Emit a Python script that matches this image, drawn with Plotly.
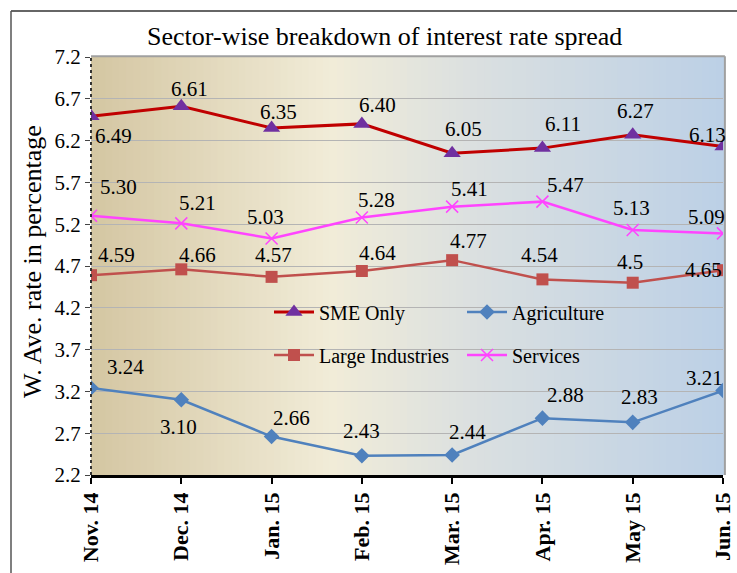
import plotly.graph_objects as go

months = ["Nov. 14", "Dec. 14", "Jan. 15", "Feb. 15", "Mar. 15", "Apr. 15", "May 15", "Jun. 15"]
sme = [6.49, 6.61, 6.35, 6.40, 6.05, 6.11, 6.27, 6.13]
agri = [3.24, 3.10, 2.66, 2.43, 2.44, 2.88, 2.83, 3.21]
large = [4.59, 4.66, 4.57, 4.64, 4.77, 4.54, 4.5, 4.65]
services = [5.30, 5.21, 5.03, 5.28, 5.41, 5.47, 5.13, 5.09]
sme_lbl = ["6.49", "6.61", "6.35", "6.40", "6.05", "6.11", "6.27", "6.13"]
agri_lbl = ["3.24", "3.10", "2.66", "2.43", "2.44", "2.88", "2.83", "3.21"]
large_lbl = ["4.59", "4.66", "4.57", "4.64", "4.77", "4.54", "4.5", "4.65"]
services_lbl = ["5.30", "5.21", "5.03", "5.28", "5.41", "5.47", "5.13", "5.09"]
yticks = [2.2, 2.7, 3.2, 3.7, 4.2, 4.7, 5.2, 5.7, 6.2, 6.7, 7.2]

# label offsets in pixels (dx, dy; dy positive = downwards)
sme_off = [(22, 20), (8, -17), (7, -16), (16, -19), (11, -24), (21, -24), (3, -24), (-16, -11)]
services_off = [(27, -29), (16, -20), (-6, -21), (15, -18), (17, -18), (23, -17), (-1, -22), (-17, -16)]
large_off = [(25, -20), (16, -14), (2, -22), (16, -18), (16, -19), (-3, -24), (-3, -21), (-20, 0)]
agri_off = [(34, -21), (-3, 27), (20, -19), (0, -25), (15, -23), (23, -23), (7, -25), (-19, -13)]

FONT = "Liberation Serif"
W, H = 737, 573
L, R, T, B = 91, 14, 57, 98
PW, PH = W - L - R, H - T - B

fig = go.Figure()

# gradient background strips
stops = [(0.0, (212, 198, 162)), (0.38, (241, 236, 216)), (0.6, (219, 224, 224)), (1.0, (188, 208, 230))]
def col(t):
    for i in range(len(stops) - 1):
        a, ca = stops[i]
        b, cb = stops[i + 1]
        if a <= t <= b:
            f = (t - a) / (b - a)
            return "rgb(%d,%d,%d)" % tuple(round(ca[k] + (cb[k] - ca[k]) * f) for k in range(3))
    return "rgb(%d,%d,%d)" % stops[-1][1]
N = 90
shapes = []
for i in range(N):
    shapes.append(dict(type="rect", xref="paper", yref="paper", x0=i / N, x1=(i + 1) / N + 0.002,
                       y0=0, y1=1, fillcolor=col((i + 0.5) / N), line=dict(width=0), layer="below"))
# plot frame top and right
shapes.append(dict(type="line", xref="paper", yref="paper", x0=0, x1=1.003, y0=1.002, y1=1.002,
                   line=dict(color="#a0a0a0", width=2), layer="above"))
shapes.append(dict(type="line", xref="paper", yref="paper", x0=1.003, x1=1.003, y0=0, y1=1.002,
                   line=dict(color="#a0a0a0", width=2), layer="above"))
# dotted left axis
shapes.append(dict(type="line", xref="paper", yref="paper", x0=0, x1=0, y0=0, y1=1,
                   line=dict(color="#333333", width=2, dash="dot"), layer="above"))
# outer border
ox = (11 - L) / PW
oy = 1 + (T - 11) / PH
shapes.append(dict(type="line", xref="paper", yref="paper", x0=ox, x1=1.1, y0=oy, y1=oy,
                   line=dict(color="#333333", width=1.5)))
shapes.append(dict(type="line", xref="paper", yref="paper", x0=ox, x1=ox, y0=oy, y1=-0.3,
                   line=dict(color="#555555", width=1.5)))

fig.add_trace(go.Scatter(
    x=months, y=sme, name="SME Only", mode="lines+markers",
    line=dict(color="#c00000", width=3),
    marker=dict(symbol="triangle-up", size=15, color="#7030a0"),
    legend="legend"))
fig.add_trace(go.Scatter(
    x=months, y=agri, name="Agriculture", mode="lines+markers",
    line=dict(color="#4f81bd", width=2.5),
    marker=dict(symbol="diamond", size=12, color="#4f81bd"),
    legend="legend"))
fig.add_trace(go.Scatter(
    x=months, y=large, name="Large Industries", mode="lines+markers",
    line=dict(color="#c0504d", width=2.5),
    marker=dict(symbol="square", size=12, color="#c0504d"),
    legend="legend2"))
fig.add_trace(go.Scatter(
    x=months, y=services, name="Services", mode="lines+markers",
    line=dict(color="#ff44ff", width=2.5),
    marker=dict(symbol="x-thin", size=12, color="#ff44ff", line=dict(color="#ff44ff", width=1.5)),
    legend="legend2"))

annotations = []
for vals, lbls, offs in [(sme, sme_lbl, sme_off), (services, services_lbl, services_off),
                         (large, large_lbl, large_off), (agri, agri_lbl, agri_off)]:
    for m, v, t, (dx, dy) in zip(months, vals, lbls, offs):
        annotations.append(dict(x=m, y=v, xref="x", yref="y", text=t, showarrow=False,
                                xanchor="center", yanchor="middle", xshift=dx, yshift=-dy,
                                font=dict(family=FONT, size=21, color="black")))
annotations.append(dict(x=(32 - L) / PW, y=(475 - 262) / PH, xref="paper", yref="paper",
                        text="W. Ave. rate in percentage", textangle=-90, showarrow=False,
                        xanchor="center", yanchor="middle",
                        font=dict(family=FONT, size=26, color="black")))

leg_common = dict(orientation="h", bgcolor="rgba(0,0,0,0)", font=dict(family=FONT, size=20, color="black"),
                  entrywidth=138, entrywidthmode="pixels", xanchor="left", yanchor="middle",
                  tracegroupgap=0, itemwidth=40)

fig.update_layout(
    width=W, height=H,
    margin=dict(l=L, r=R, t=T, b=B, pad=0, autoexpand=False),
    paper_bgcolor="white", plot_bgcolor="white",
    font=dict(family=FONT, color="black"),
    title=dict(text="Sector-wise breakdown of interest rate spread", x=0.522, xanchor="center",
               y=1 - 36 / H, yanchor="middle", automargin=False,
               font=dict(family=FONT, size=26, color="black")),
    shapes=shapes,
    annotations=annotations,
    showlegend=True,
    legend=dict(x=(269 - L) / PW, y=(475 - 312) / PH, **leg_common),
    legend2=dict(x=(269 - L) / PW, y=(475 - 355) / PH, **leg_common),
    xaxis=dict(type="category", range=[0, 7], showgrid=False, showline=True, linecolor="black",
               linewidth=2.5, ticks="outside", ticklen=6, tickcolor="black", tickwidth=1.5,
               tickangle=-90, tickfont=dict(family=FONT, size=22, color="black", weight="bold"),
               zeroline=False, automargin=False),
    yaxis=dict(range=[2.2, 7.2], tickvals=yticks, ticktext=["%.1f" % v for v in yticks],
               showgrid=True, gridcolor="#b4b4b4", gridwidth=1.2, showline=False,
               ticks="outside", ticklen=5, tickcolor="#444444",
               tickfont=dict(family=FONT, size=21, color="black"), zeroline=False, automargin=False),
)

fig.write_html("out.html", config={"displayModeBar": False},
               post_script="document.body.style.margin='0px';document.body.style.padding='0px';")
